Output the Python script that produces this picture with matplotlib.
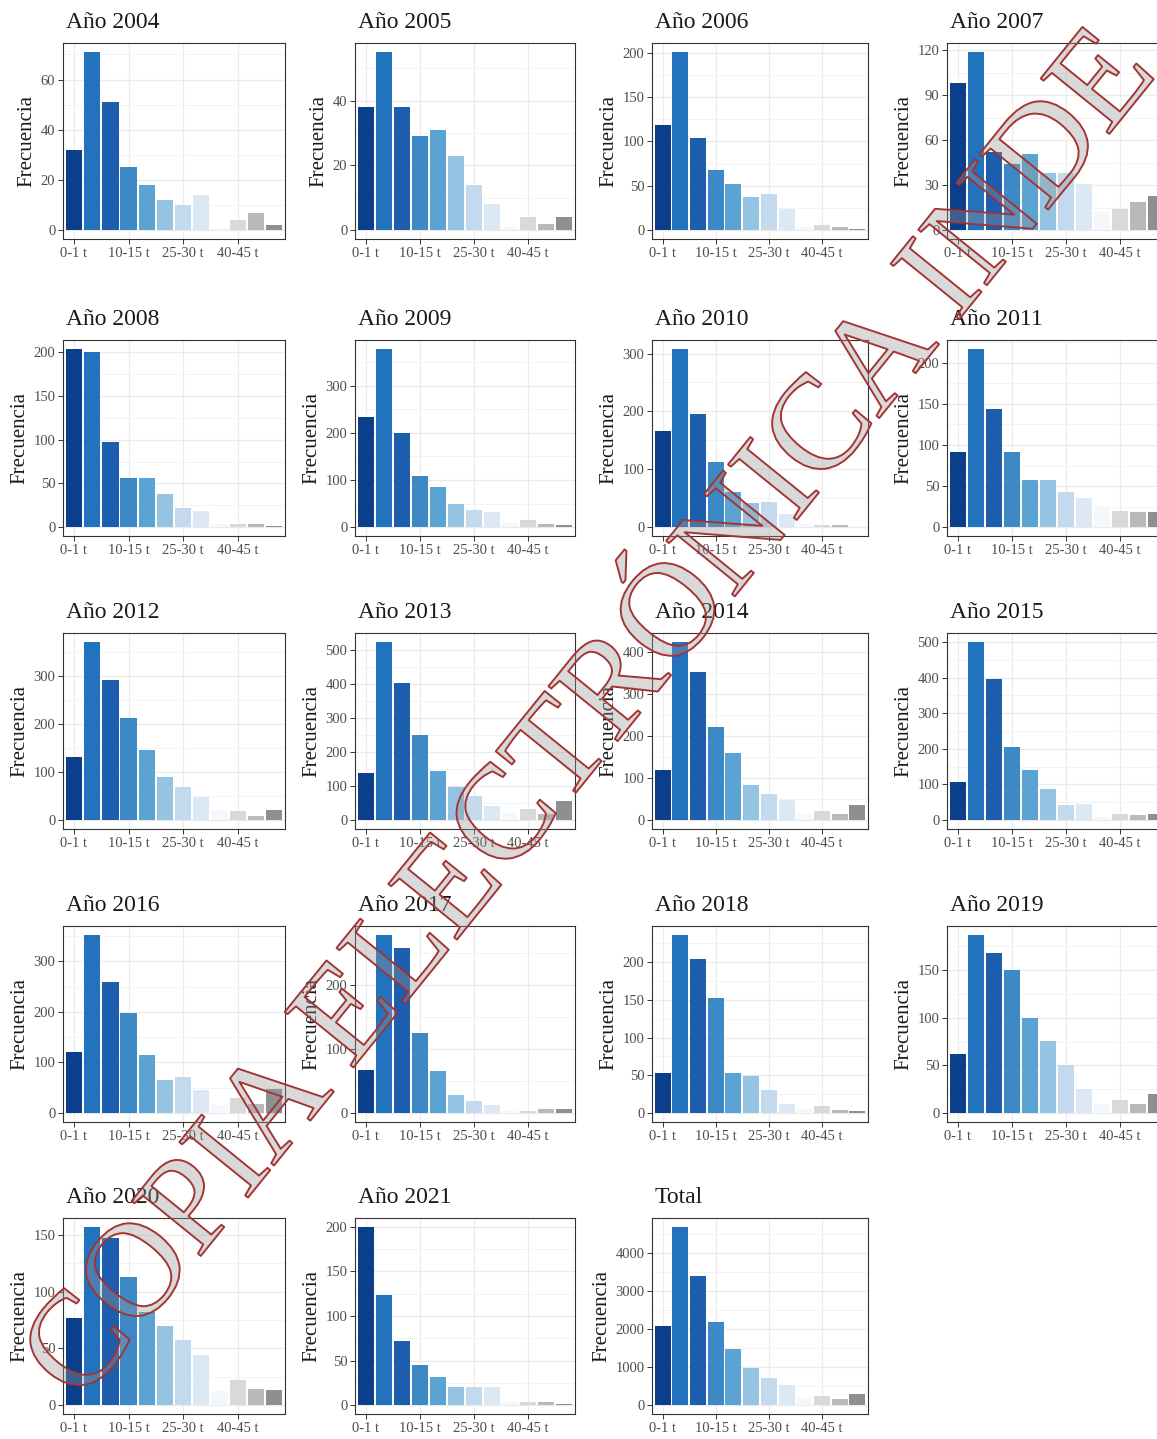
import matplotlib
matplotlib.use("Agg")
import matplotlib.pyplot as plt
import matplotlib.patheffects as pe
from matplotlib.ticker import MultipleLocator
import numpy as np

# Clases de peso y títulos de cada panel
categorias = ['0-1 t', '1-5 t', '5-10 t', '10-15 t', '15-20 t', '20-25 t',
              '25-30 t', '30-35 t', '35-40 t', '40-45 t', '45-50 t', '>50 t']
titulos = ['Año 2004', 'Año 2005', 'Año 2006', 'Año 2007',
           'Año 2008', 'Año 2009', 'Año 2010', 'Año 2011',
           'Año 2012', 'Año 2013', 'Año 2014', 'Año 2015',
           'Año 2016', 'Año 2017', 'Año 2018', 'Año 2019',
           'Año 2020', 'Año 2021', 'Total']

# Frecuencias por clase para cada año
frec_2004 = [32, 71, 51, 25, 18, 12, 10, 14, 1, 4, 7, 2]
frec_2005 = [38, 55, 38, 29, 31, 23, 14, 8, 1, 4, 2, 4]
frec_2006 = [119, 201, 104, 68, 52, 37, 41, 24, 4, 6, 4, 1]
frec_2007 = [98, 119, 52, 44, 51, 38, 38, 31, 12, 14, 19, 23]
frec_2008 = [204, 201, 97, 56, 56, 38, 22, 18, 3, 4, 3, 1]
frec_2009 = [234, 378, 200, 109, 86, 49, 36, 32, 8, 16, 6, 4]
frec_2010 = [166, 308, 196, 113, 61, 42, 43, 23, 5, 4, 3, 1]
frec_2011 = [92, 217, 144, 91, 57, 57, 43, 35, 26, 20, 18, 18]
frec_2012 = [132, 371, 291, 213, 146, 89, 69, 48, 20, 19, 9, 22]
frec_2013 = [139, 524, 403, 251, 144, 98, 72, 42, 20, 34, 18, 57]
frec_2014 = [119, 424, 352, 221, 159, 84, 62, 48, 15, 21, 14, 36]
frec_2015 = [108, 500, 395, 205, 140, 86, 42, 46, 10, 16, 14, 16]
frec_2016 = [120, 352, 258, 197, 115, 65, 72, 45, 15, 30, 18, 48]
frec_2017 = [68, 279, 258, 126, 66, 28, 19, 13, 3, 3, 7, 7]
frec_2018 = [53, 236, 204, 152, 53, 49, 30, 12, 5, 10, 4, 3]
frec_2019 = [62, 187, 168, 150, 100, 76, 50, 25, 10, 14, 10, 20]
frec_2020 = [77, 157, 147, 113, 82, 70, 57, 44, 12, 22, 14, 13]
frec_2021 = [200, 124, 72, 45, 32, 20, 20, 20, 3, 4, 4, 1]
frec_total = [2070, 4690, 3400, 2180, 1480, 980, 720, 540, 180, 240, 170, 290]

frecuencias = [frec_2004, frec_2005, frec_2006, frec_2007,
               frec_2008, frec_2009, frec_2010, frec_2011,
               frec_2012, frec_2013, frec_2014, frec_2015,
               frec_2016, frec_2017, frec_2018, frec_2019,
               frec_2020, frec_2021, frec_total]

# Separación de las marcas del eje y en cada panel
paso_y = [20, 20, 50, 30, 50, 100, 100, 50, 100, 100, 100, 100,
          100, 100, 50, 50, 50, 50, 1000]

colores = ['#0b3f8c', '#2372bd', '#1d5eae', '#3d89c6', '#5ba3d3', '#94c4e2',
           '#c3d9ee', '#dce8f4', '#f4f8fc', '#d9d9d9', '#b9b9b9', '#8f8f8f']

fuente = 'Liberation Serif'
plt.rcParams['font.family'] = [fuente, 'DejaVu Serif']

W, H = 1157, 1439
fig = plt.figure(figsize=(W / 100, H / 100), dpi=100)
fig.patch.set_facecolor('white')

izq = [63, 355, 652, 947]
ancho = [222, 220, 216, 220]
arriba = [43, 340, 633, 926, 1218]
alto = 196

x = np.arange(len(categorias))
for i, (titulo, valores) in enumerate(zip(titulos, frecuencias)):
    fila, col = divmod(i, 4)
    l, w, t = izq[col], ancho[col], arriba[fila]
    ax = fig.add_axes([l / W, 1 - (t + alto) / H, w / W, alto / H])
    ax.bar(x, valores, width=0.9, color=colores, zorder=2)
    vmax = max(valores)
    ax.set_xlim(-0.6, len(categorias) - 0.4)
    ax.set_ylim(-0.05 * vmax, 1.05 * vmax)
    ax.set_xticks(x[::3])
    ax.set_xticklabels(categorias[::3])
    ax.yaxis.set_major_locator(MultipleLocator(paso_y[i]))
    ax.yaxis.set_minor_locator(MultipleLocator(paso_y[i] / 2))
    ax.grid(which='major', color='#ebebeb', lw=0.9, zorder=0)
    ax.grid(which='minor', axis='y', color='#f2f2f2', lw=0.6, zorder=0)
    ax.set_axisbelow(True)
    ax.tick_params(axis='both', which='major', length=3.5, width=0.7,
                   color='#333333', labelcolor='#4d4d4d', labelsize=10.5, pad=2)
    ax.tick_params(axis='y', which='minor', length=0)
    for s in ax.spines.values():
        s.set_color('#333333')
        s.set_linewidth(0.8)
    ax.set_ylabel('Frecuencia', fontsize=15, color='#1a1a1a', labelpad=3)
    ax.annotate(titulo, xy=(0, 1), xycoords='axes fraction',
                xytext=(2, 11), textcoords='offset points',
                ha='left', va='baseline', fontsize=17, color='#1a1a1a')

# Marca de agua diagonal
fig.text(80 / W, 1 - 1405 / H, 'COPIA ELECTRÓNICA INDE', rotation=51,
         rotation_mode='anchor', ha='left', va='baseline',
         fontsize=97, fontweight='normal', family=fuente,
         color=(0.6, 0.6, 0.6, 0.2),
         path_effects=[pe.withStroke(linewidth=1.4, foreground='#a52a2a')])

fig.savefig('out.png', dpi=100, facecolor='white')
